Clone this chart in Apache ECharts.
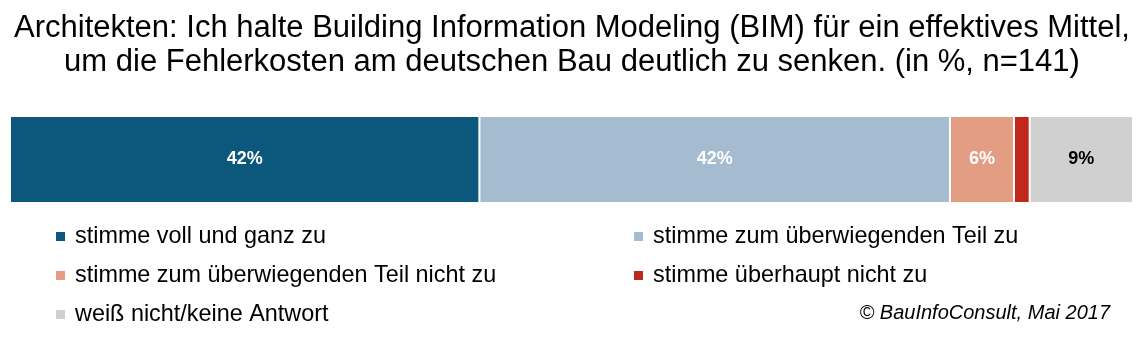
<!DOCTYPE html>
<html>
<head>
<meta charset="utf-8">
<script src="https://cdn.jsdelivr.net/npm/echarts@6/dist/echarts.min.js"></script>
<style>
html,body{margin:0;padding:0;background:#fff;}
#chart{width:1144px;height:338px;}
</style>
</head>
<body>
<div id="chart"></div>
<script>
const titleLines = [
  'Architekten: Ich halte Building Information Modeling (BIM) für ein effektives Mittel,',
  'um die Fehlerkosten am deutschen Bau deutlich zu senken. (in %, n=141)'
];
const categories = ['Architekten'];
const seriesNames = [
  'stimme voll und ganz zu',
  'stimme zum überwiegenden Teil zu',
  'stimme zum überwiegenden Teil nicht zu',
  'stimme überhaupt nicht zu',
  'weiß nicht/keine Antwort'
];
const seriesValues = [41.8, 41.9, 5.7, 1.4, 9.2];
const seriesColors = ['#0b587c', '#a5bbcf', '#e39d83', '#c0271d', '#d0d0d0'];
const labelColors = ['#ffffff', '#ffffff', '#ffffff', '#ffffff', '#000000'];
const sourceText = '© BauInfoConsult, Mai 2017';

const FONT = '"Liberation Sans", Arial, sans-serif';
const chart = echarts.init(document.getElementById('chart'), null, {renderer: 'canvas'});

const series = seriesNames.map((name, i) => ({
  name: name,
  type: 'bar',
  stack: 'total',
  barWidth: '100%',
  data: [seriesValues[i]],
  itemStyle: {color: seriesColors[i], borderColor: '#ffffff', borderWidth: 1},
  label: {
    show: seriesValues[i] >= 3,
    position: 'inside',
    color: labelColors[i],
    fontFamily: FONT,
    fontWeight: 'bold',
    fontSize: 18,
    formatter: p => Math.round(p.value) + '%'
  },
  emphasis: {disabled: true}
}));

const legendText = {
  fontFamily: FONT, fontSize: 23.4, color: '#000', lineHeight: 23,
  padding: [0, 0, 0, 5]
};

const legendBase = {
  orient: 'vertical',
  top: 225,
  padding: 0,
  itemWidth: 9,
  itemHeight: 9,
  itemGap: 16,
  icon: 'rect',
  itemStyle: {borderWidth: 0},
  textStyle: legendText,
  selectedMode: false
};

chart.setOption({
  animation: false,
  backgroundColor: '#ffffff',
  title: [{
    text: titleLines.join('\n'),
    left: 'center',
    top: 6,
    textStyle: {fontFamily: FONT, fontSize: 31, fontWeight: 'normal', color: '#000', lineHeight: 34}
  }, {
    text: sourceText,
    right: 29,
    top: 298,
    textStyle: {fontFamily: FONT, fontSize: 20, fontStyle: 'italic', fontWeight: 'normal', color: '#000'}
  }],
  legend: [
    Object.assign({}, legendBase, {left: 56, data: [seriesNames[0], seriesNames[2], seriesNames[4]]}),
    Object.assign({}, legendBase, {left: 634, data: [seriesNames[1], seriesNames[3]]})
  ],
  grid: {left: 10, right: 11, top: 116, height: 87, containLabel: false},
  xAxis: {type: 'value', min: 0, max: 100, show: false},
  yAxis: {type: 'category', data: categories, show: false},
  series: series
});
</script>
</body>
</html>
